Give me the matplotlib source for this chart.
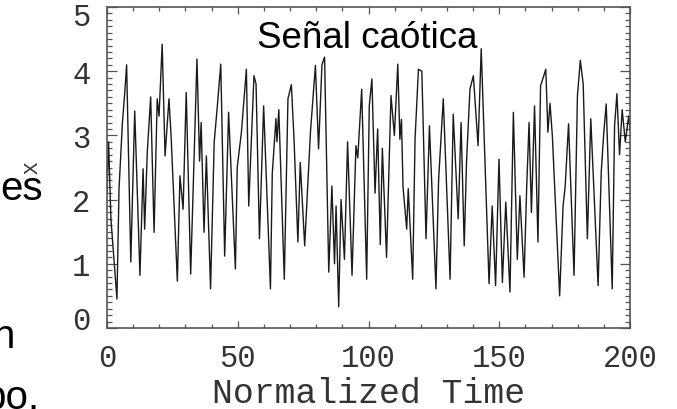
import matplotlib
matplotlib.use('Agg')
import matplotlib.pyplot as plt
from matplotlib.ticker import MultipleLocator, FuncFormatter

# signal (peaks / troughs of the trace)
time = [0, 0.6, 1.5, 3.8, 4.6, 5.9, 6.8, 7.5, 9.1, 10.6, 12.6, 13.8, 14.4, 15.4,
        16.7, 18.0, 19.2, 19.9, 21.1, 22.2, 23.7, 24.5, 26.9, 27.9, 29.1, 30.3,
        32.0, 34.4, 35.4, 36.0, 37.1, 38.0, 39.6, 41.0, 42.2, 43.5, 45.0, 46.5,
        49.1, 49.8, 51.4, 53.3, 54.2, 56.2, 57.0, 58.3, 59.9, 62.5, 63.2, 64.6,
        65.0, 65.7, 67.8, 69.2, 70.5, 71.5, 73.0, 73.9, 75.6, 77.8, 79.7, 80.9,
        82.2, 83.2, 84.8, 86.0, 87.0, 87.6, 88.6, 89.5, 90.8, 92.0, 93.7, 95.2,
        95.9, 97.4, 99.3, 100.3, 101.3, 102.5, 103.5, 104.5, 105.3, 106.9, 108.6,
        109.9, 111.2, 112.0, 112.6, 113.2, 114.6, 115.2, 116.9, 117.8, 119.1,
        120.4, 122.0, 123.3, 125.8, 126.8, 128.6, 131.2, 132.4, 134.3, 135.4,
        136.6, 137.5, 138.8, 140.1, 141.9, 143.1, 146.1, 147.3, 148.6, 149.9,
        151.2, 152.5, 154.1, 155.4, 156.9, 157.9, 159.5, 160.5, 161.4, 162.3,
        163.5, 164.8, 165.8, 167.8, 168.6, 169.4, 170.3, 173.1, 174.4, 175.2,
        176.5, 178.6, 179.9, 181.0, 182.1, 183.7, 185.0, 187.8, 189.0, 189.9,
        190.9, 193.2, 194.1, 195.0, 196.0, 197.0, 198.2, 199.5, 200.0]
x_val = [2.1, 2.9, 1.7, 0.45, 2.17, 3.2, 3.67, 4.1, 1.03, 3.38, 0.82, 2.48, 1.54, 2.74,
         3.6, 1.49, 3.57, 3.3, 4.42, 2.68, 3.57, 3.0, 0.73, 2.37, 1.85, 3.67,
         0.84, 4.19, 2.6, 3.2, 1.49, 2.68, 0.61, 2.9, 3.46, 4.11, 1.12, 3.36,
         0.92, 2.5, 3.05, 4.03, 1.9, 3.93, 3.8, 1.39, 3.46, 0.61, 2.4, 3.26,
         2.9, 3.4, 0.76, 3.57, 3.79, 2.96, 1.34, 2.58, 1.28, 3.05, 4.09, 2.79,
         4.1, 4.22, 0.87, 2.21, 1.0, 1.9, 0.33, 2.0, 1.07, 2.9, 0.82, 2.84,
         2.65, 3.72, 0.76, 3.46, 3.88, 2.1, 3.1, 1.3, 2.8, 1.1, 3.62,
         3.0, 4.11, 2.94, 3.25, 2.2, 1.54, 2.17, 0.76, 2.94, 4.03,
         4.0, 1.39, 3.15, 0.61, 2.3, 3.57, 0.76, 3.33, 1.7, 3.2,
         1.28, 2.6, 3.72, 3.93, 2.84, 4.35, 0.69, 1.9, 0.66, 2.63,
         0.71, 1.96, 0.56, 3.36, 1.07, 2.06, 0.79, 2.2, 3.2, 1.8,
         3.46, 1.34, 3.77, 4.03, 3.05, 3.5, 3.0, 0.5, 1.9, 2.2,
         3.18, 0.82, 3.62, 4.17, 3.8, 1.39, 3.26, 0.66, 2.43, 3.0,
         3.49, 0.61, 3.15, 3.65, 2.7, 3.4, 2.9, 3.3, 3.1]
y_lo, y_hi = 0, 5

W, H = 677, 410
mono = 'Liberation Mono'
sans = 'Liberation Sans'
grey = '#333333'

fig = plt.figure(figsize=(W / 100, H / 100), dpi=100)
ax = fig.add_axes([107 / W, 1 - 329 / H, 523 / W, 321 / H])

ax.plot(time, x_val, color='#1a1a1a', lw=1.0)

ax.set_xlim(0, 200)
ax.set_ylim(y_lo, y_hi)
ax.xaxis.set_major_locator(MultipleLocator(50))
ax.xaxis.set_minor_locator(MultipleLocator(10))
ax.yaxis.set_major_locator(MultipleLocator(1))
ax.yaxis.set_minor_locator(MultipleLocator(0.1))
ax.tick_params(which='both', direction='in', top=True, right=True, color='#555555', width=0.9)
ax.tick_params(axis='y', which='major', length=7, pad=12)
ax.tick_params(axis='y', which='minor', length=3.5)
ax.tick_params(axis='x', which='major', length=5, pad=11)
ax.tick_params(axis='x', which='minor', length=3)
for s in ax.spines.values():
    s.set_color('#555555')
    s.set_linewidth(1.2)

ax.tick_params(labelsize=22, labelcolor=grey)
for lab in ax.get_xticklabels() + ax.get_yticklabels():
    lab.set_fontfamily(mono)

# end labels of the y axis are pulled inside the frame, like the original
ax.yaxis.set_major_formatter(FuncFormatter(lambda v, p: '' if v in (y_lo, y_hi) else '%d' % v))
for v, dy in ((y_lo, 5), (y_hi, -7)):
    ax.annotate('%d' % v, xy=(0, v), xycoords=('axes fraction', 'data'),
                xytext=(-12, dy), textcoords='offset points', ha='right', va='center',
                family=mono, fontsize=22, color=grey)

ax.set_xlabel('Normalized Time', family=mono, fontsize=25, color=grey, labelpad=2)
fig.text(32 / W, 1 - 168 / H, 'X', rotation=90, ha='center', va='center',
         family=mono, fontsize=15, color=grey)

# slide text
fig.text(257 / W, 1 - 48 / H, 'Señal caótica', family=sans, fontsize=26.5,
         ha='left', va='baseline', zorder=5)
fig.text(43 / W, 1 - 200 / H, 'es', family=sans, fontsize=29, ha='right', va='baseline')
fig.text(15 / W, 1 - 348 / H, 'n', family=sans, fontsize=29, ha='right', va='baseline')
fig.text(40 / W, 1 - 409 / H, 'po.', family=sans, fontsize=29, ha='right', va='baseline')

fig.savefig('out.png', dpi=100)
